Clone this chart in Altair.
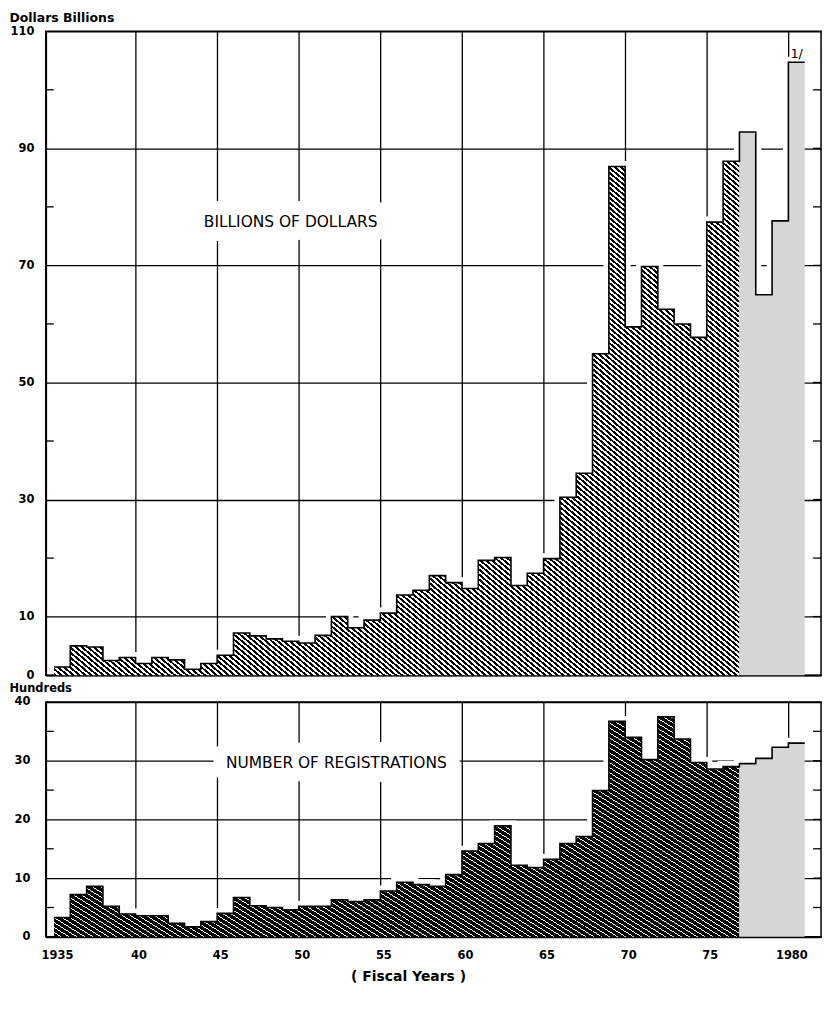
import math
import altair as alt
import pandas as pd

# ---------------- data ----------------
years = list(range(1935, 1981))
dollars = [1.4, 5.0, 4.8, 2.5, 3.0, 2.0, 3.0, 2.6, 1.0, 2.0,
           3.4, 7.2, 6.7, 6.2, 5.8, 5.5, 6.8, 10.0, 8.1, 9.4,
           10.6, 13.7, 14.5, 17.0, 15.8, 14.8, 19.6, 20.1, 15.3, 17.4,
           19.9, 30.4, 34.5, 54.9, 86.9, 59.5, 69.8, 62.5, 60.0, 57.7,
           77.4, 87.8, 92.8, 65.0, 77.6, 104.7]
registrations = [3.3, 7.2, 8.6, 5.2, 3.9, 3.6, 3.6, 2.3, 1.7, 2.6,
                 4.0, 6.7, 5.3, 5.0, 4.6, 5.2, 5.2, 6.3, 6.0, 6.3,
                 7.8, 9.3, 8.9, 8.6, 10.6, 14.6, 15.9, 18.9, 12.2, 11.8,
                 13.2, 15.9, 17.1, 24.9, 36.7, 34.0, 30.2, 37.5, 33.7, 29.7,
                 28.6, 29.0, 29.5, 30.4, 32.3, 33.0]
first_estimate_year = 1977

dollar_ticks = [0, 10, 30, 50, 70, 90, 110]
dollar_minor_ticks = [20, 40, 60, 80, 100]
dollar_right_ticks = [10, 20, 30, 40, 50, 60, 70, 80, 90, 100]
reg_ticks = [0, 10, 20, 30, 40]
reg_minor_ticks = [5, 15, 25, 35]
reg_right_ticks = [5, 10, 15, 20, 25, 30, 35]
year_ticks = [1935, 1940, 1945, 1950, 1955, 1960, 1965, 1970, 1975, 1980]
year_tick_labels = ["1935", "40", "45", "50", "55", "60", "65", "70", "75", "1980"]
grid_years = [1940, 1945, 1950, 1955, 1960, 1965, 1970, 1975, 1980]

top_axis_title = "Dollars Billions"
bottom_axis_title = "Hundreds"
top_label = "BILLIONS OF DOLLARS"
bottom_label = "NUMBER OF REGISTRATIONS"
x_title = "( Fiscal Years )"
footnote = "1/"

# ---------------- layout / style ----------------
W = 779
H_TOP = 647
H_BOT = 236
X_DOMAIN = [1934.5, 1982]
FONT = "DejaVu Sans"
DOT = "#d6d6d6"
TICK_LEN = 8


def step_frame(values, start, stop):
    xs = [y for y in years if start <= y <= stop]
    vs = [v for y, v in zip(years, values) if start <= y <= stop]
    xs.append(stop + 1)
    vs.append(vs[-1])
    return pd.DataFrame({"x": xs, "y": vs})


def stripes(values, ymax, height, angle_deg, period_px, ink, paper, ink_share):
    px_per_year = W / (X_DOMAIN[1] - X_DOMAIN[0])
    w = (first_estimate_year - years[0]) * px_per_year
    h = max(v for y, v in zip(years, values) if y < first_estimate_year) * height / ymax
    a = math.tan(math.radians(angle_deg)) * w / h
    dt = a / ((a * a + 1) * w)
    n = int(round(1 / (dt * period_px)))
    stops = []
    for i in range(n):
        o0 = round(i / n, 6)
        o1 = round((i + ink_share) / n, 6)
        o2 = round((i + 1) / n, 6)
        stops += [alt.GradientStop(color=ink, offset=o0),
                  alt.GradientStop(color=ink, offset=o1),
                  alt.GradientStop(color=paper, offset=o1),
                  alt.GradientStop(color=paper, offset=o2)]
    return alt.LinearGradient(gradient="linear", stops=stops,
                              x1=0, y1=1, x2=round(a, 4), y2=0)


label_expr = " : ".join(f"datum.value == {v} ? '{l}'" for v, l in zip(year_ticks, year_tick_labels)) + " : ''"


def panel(values, ymax, height, main_axis, minor, right, hatch, label, label_xy, x_axis, note=None):
    xsc = alt.Scale(domain=X_DOMAIN, nice=False, zero=False)
    ysc = alt.Scale(domain=[0, ymax], nice=False)
    X = alt.X("x:Q", scale=xsc, axis=x_axis)

    def Y(field="y"):
        return alt.Y(f"{field}:Q", scale=ysc, axis=main_axis)

    all_df = step_frame(values, years[0], years[-1])
    act_df = step_frame(values, years[0], first_estimate_year - 1)
    est_df = step_frame(values, first_estimate_year, years[-1])

    halo = alt.Chart(all_df).mark_line(interpolate="step-after", color="white",
                                       strokeWidth=11).encode(x=X, y=Y())
    lab_df = pd.DataFrame({"t": [label]})
    lab_halo = alt.Chart(lab_df).mark_text(x=label_xy[0], y=label_xy[1], font=FONT, fontSize=15.5,
                                           color="white", stroke="white", strokeWidth=28,
                                           strokeJoin="round").encode(text="t:N")
    hatched = alt.Chart(act_df).mark_area(interpolate="step-after", color=hatch,
                                          opacity=1).encode(x=X, y=Y())
    dotted = alt.Chart(est_df).mark_area(interpolate="step-after", color=DOT,
                                         opacity=1).encode(x=X, y=Y())
    outline = alt.Chart(all_df).mark_line(interpolate="step-after", color="black",
                                          strokeWidth=1.6).encode(x=X, y=Y())
    lab = alt.Chart(lab_df).mark_text(x=label_xy[0], y=label_xy[1], font=FONT, fontSize=15.5,
                                      color="black").encode(text="t:N")
    left_ticks = alt.Chart(pd.DataFrame({"y": minor})).mark_tick(
        orient="horizontal", size=TICK_LEN, thickness=1.3, color="black", opacity=1
    ).encode(y=Y(), x=alt.value(TICK_LEN / 2))
    right_ticks = alt.Chart(pd.DataFrame({"y": right})).mark_tick(
        orient="horizontal", size=TICK_LEN, thickness=1.3, color="black", opacity=1
    ).encode(y=Y(), x=alt.value(W - TICK_LEN / 2))
    layers = [halo, lab_halo, hatched, dotted, outline, lab, left_ticks, right_ticks]
    if note is not None:
        note_df = pd.DataFrame({"x": [years[-1]], "y": [values[-1]], "n": [note]})
        layers.append(alt.Chart(note_df).mark_text(align="left", baseline="bottom", dx=2, dy=-1,
                                                   font=FONT, fontSize=13, color="black")
                      .encode(x=X, y=Y(), text="n:N"))
    return alt.layer(*layers).properties(width=W, height=height)


top_x_axis = alt.Axis(values=grid_years, grid=True, labels=False, ticks=False, tickSize=0,
                      domain=True, title=None)
top_y_axis = alt.Axis(orient="left", values=dollar_ticks, grid=True, ticks=False, tickSize=0,
                      labelPadding=12, domain=True, title=top_axis_title, titleAngle=0,
                      titleAlign="left", titleBaseline="top", titleX=-37, titleY=-20,
                      titleFontSize=12.5)
bot_x_axis = alt.Axis(values=year_ticks, labelExpr=label_expr, grid=True,
                      gridOpacity=alt.condition("datum.value == 1935", alt.value(0), alt.value(1)),
                      ticks=False, tickSize=0, labelPadding=13, labelOffset=3, labelFlush=False,
                      domain=True, title=x_title, titleX=364, titleY=40, titleBaseline="middle",
                      titleFontSize=14)
bot_y_axis = alt.Axis(orient="left", values=reg_ticks, grid=True, ticks=False, tickSize=0,
                      labelPadding=16, domain=True, title=bottom_axis_title, titleAngle=0,
                      titleAlign="left", titleBaseline="top", titleX=-37, titleY=-19.5,
                      titleFontSize=11.5)

top_hatch = stripes(dollars, 110, H_TOP, 40, 6, "black", "white", 0.5)
bot_hatch = stripes(registrations, 40, H_BOT, 32, 8, "black", "white", 0.8)

top = panel(dollars, 110, H_TOP, top_y_axis, dollar_minor_ticks, dollar_right_ticks, top_hatch,
            top_label, (246, 192), top_x_axis, note=footnote)
bottom = panel(registrations, 40, H_BOT, bot_y_axis, reg_minor_ticks, reg_right_ticks, bot_hatch,
               bottom_label, (292, 61), bot_x_axis)

chart = alt.vconcat(top, bottom, spacing=27, bounds="flush", padding=0).configure_view(
    stroke="black", strokeWidth=1.5
).configure_axis(
    gridColor="black", gridWidth=1.3, gridOpacity=1,
    domainColor="black", domainWidth=1.6,
    tickColor="black", tickWidth=1.3,
    labelColor="black", labelFont=FONT, labelFontSize=11.5, labelFontWeight="bold",
    titleColor="black", titleFont=FONT, titleFontWeight="bold",
)

chart.save("out.html", embed_options={"renderer": "svg", "actions": False})
